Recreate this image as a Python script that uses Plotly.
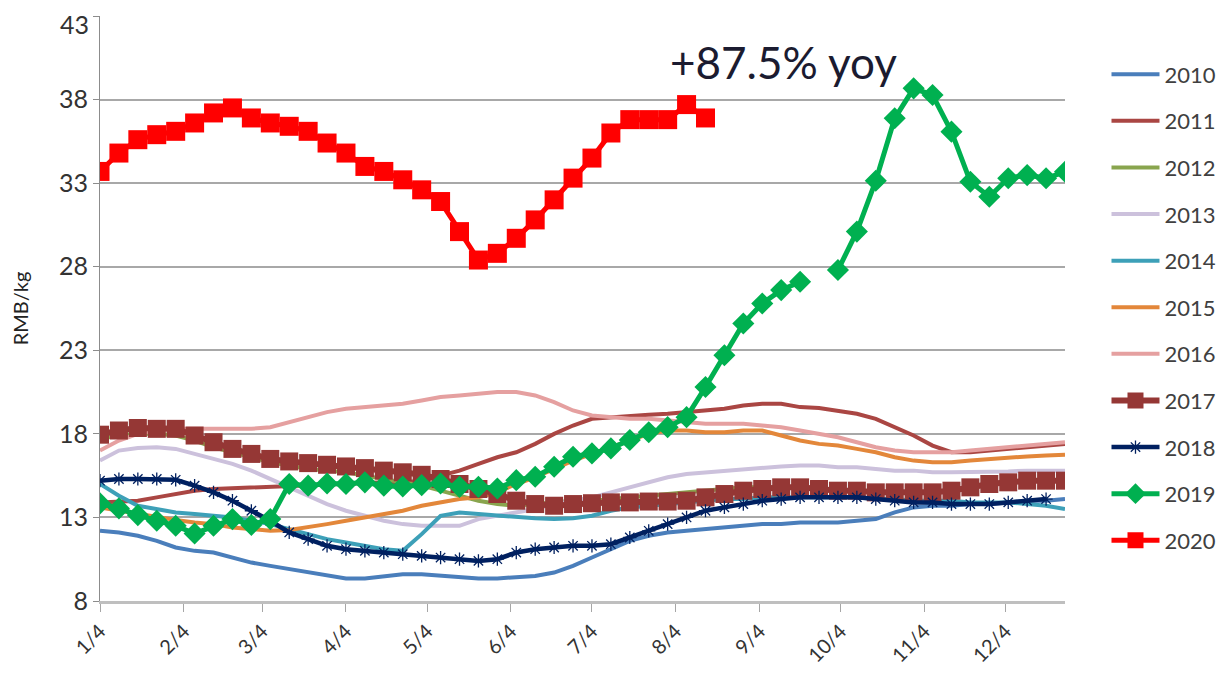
import pandas as pd
import plotly.graph_objects as go

# Weekly observation dates (plotted on a common 2020 calendar axis)
WEEKS = pd.date_range("2020-01-04", periods=52, freq="7D")

TICK_DATES = ["2020-01-04", "2020-02-04", "2020-03-04", "2020-04-04", "2020-05-04", "2020-06-04",
              "2020-07-04", "2020-08-04", "2020-09-04", "2020-10-04", "2020-11-04", "2020-12-04"]
TICK_LABELS = ["1/4", "2/4", "3/4", "4/4", "5/4", "6/4", "7/4", "8/4", "9/4", "10/4", "11/4", "12/4"]

Y_TICKS = [8, 13, 18, 23, 28, 33, 38, 43]

p2010 = [12.2, 12.1, 11.9, 11.6, 11.2, 11.0, 10.9, 10.6, 10.3, 10.1, 9.9, 9.7, 9.5, 9.35, 9.35, 9.5,
         9.6, 9.6, 9.5, 9.4, 9.35, 9.35, 9.4, 9.5, 9.7, 10.1, 10.6, 11.1, 11.6, 11.9, 12.1, 12.2,
         12.3, 12.4, 12.5, 12.6, 12.6, 12.7, 12.7, 12.7, 12.8, 12.9, 13.3, 13.6, 13.7, 13.7, 13.8,
         13.8, 13.9, 14.0, 14.0, 14.1]
p2011 = [13.9, 13.95, 14.0, 14.2, 14.4, 14.6, 14.7, 14.75, 14.8, 14.85, 14.9, 14.95, 15.0, 15.0,
         15.05, 15.1, 15.1, 15.2, 15.5, 15.8, 16.2, 16.6, 16.9, 17.4, 18.0, 18.5, 18.9, 19.0, 19.1,
         19.15, 19.2, 19.3, 19.35, 19.5, 19.7, 19.8, 19.8, 19.6, 19.55, 19.4, 19.2, 18.9, 18.4,
         17.9, 17.3, 16.9, 16.9, 17.0, 17.1, 17.2, 17.3, 17.4]
p2012 = [17.7, 17.9, 18.0, 18.0, 17.9, 17.6, 17.2, 16.9, 16.6, 16.3, 16.1, 15.9, 15.8, 15.7, 15.5,
         15.3, 15.1, 14.9, 14.6, 14.3, 14.0, 13.8, 13.7, 13.8, 13.9, 14.0, 14.0, 14.1, 14.2, 14.3,
         14.4, 14.5, 14.6, 14.7, 14.8, 14.8, 14.8, 14.8, 14.7, 14.6, 14.6, 14.5, 14.5, 14.5, 14.5,
         14.6, 14.8, 15.0, 15.1, 15.2, 15.2, 15.2]
p2013 = [16.4, 17.0, 17.15, 17.2, 17.1, 16.8, 16.5, 16.2, 15.8, 15.3, 14.8, 14.3, 13.8, 13.4, 13.1,
         12.8, 12.6, 12.5, 12.5, 12.5, 12.9, 13.1, 13.3, 13.5, 13.8, 14.0, 14.2, 14.5, 14.8, 15.1,
         15.4, 15.6, 15.7, 15.8, 15.9, 16.0, 16.05, 16.1, 16.1, 16.0, 16.0, 15.9, 15.8, 15.8, 15.7,
         15.7, 15.7, 15.7, 15.75, 15.8, 15.8, 15.8]
p2014 = [15.0, 14.3, 13.7, 13.5, 13.3, 13.2, 13.1, 13.0, 12.8, 12.6, 12.3, 12.0, 11.7, 11.5, 11.3,
         11.1, 11.0, 12.0, 13.1, 13.3, 13.2, 13.1, 13.0, 12.95, 12.9, 12.95, 13.1, 13.4, 13.6, 13.7,
         13.8, 13.9, 14.0, 14.1, 14.1, 14.2, 14.2, 14.2, 14.2, 14.2, 14.2, 14.1, 14.1, 14.0, 14.0,
         14.0, 13.9, 13.9, 13.9, 13.8, 13.7, 13.5]
p2015 = [13.6, 13.4, 13.2, 13.0, 12.85, 12.7, 12.6, 12.4, 12.3, 12.2, 12.25, 12.4, 12.6, 12.8, 13.0,
         13.2, 13.4, 13.7, 13.9, 14.1, 14.2, 14.5, 15.0, 15.4, 15.9, 16.4, 16.8, 17.2, 17.6, 18.0,
         18.2, 18.2, 18.1, 18.1, 18.2, 18.2, 17.9, 17.6, 17.4, 17.3, 17.1, 16.9, 16.6, 16.4, 16.3,
         16.3, 16.4, 16.5, 16.6, 16.65, 16.7, 16.75]
p2016 = [17.0, 17.6, 18.0, 18.2, 18.3, 18.3, 18.3, 18.3, 18.3, 18.4, 18.7, 19.0, 19.3, 19.5, 19.6,
         19.7, 19.8, 20.0, 20.2, 20.3, 20.4, 20.5, 20.5, 20.3, 19.9, 19.4, 19.1, 19.0, 18.9, 18.9,
         18.8, 18.7, 18.6, 18.6, 18.6, 18.5, 18.4, 18.2, 18.0, 17.8, 17.5, 17.2, 17.0, 16.9, 16.9,
         16.9, 17.0, 17.1, 17.2, 17.3, 17.4, 17.5]
p2017 = [17.95, 18.2, 18.35, 18.3, 18.3, 17.9, 17.5, 17.1, 16.8, 16.5, 16.35, 16.25, 16.15, 16.05,
         15.95, 15.8, 15.7, 15.55, 15.3, 15.0, 14.7, 14.4, 14.0, 13.8, 13.7, 13.8, 13.85, 13.9,
         13.9, 13.95, 13.95, 14.0, 14.2, 14.4, 14.6, 14.7, 14.8, 14.8, 14.7, 14.6, 14.6, 14.5, 14.5,
         14.5, 14.5, 14.6, 14.8, 15.0, 15.1, 15.2, 15.2, 15.2]
p2018 = [15.2, 15.3, 15.3, 15.3, 15.25, 14.9, 14.5, 14.0, 13.4, 12.8, 12.1, 11.7, 11.3, 11.1, 11.0,
         10.9, 10.8, 10.7, 10.6, 10.5, 10.4, 10.5, 10.9, 11.1, 11.2, 11.3, 11.3, 11.4, 11.8, 12.2,
         12.6, 13.0, 13.4, 13.6, 13.8, 14.0, 14.1, 14.2, 14.2, 14.2, 14.2, 14.1, 14.0, 13.9, 13.9,
         13.8, 13.8, 13.8, 13.9, 14.0, 14.1, None]
p2019 = [13.84, 13.54, 13.14, 12.8, 12.5, 12.04, 12.5, 12.9, 12.55, 12.9, 15.0, 14.9, 15.03, 15.0,
         15.1, 14.9, 14.85, 14.93, 15.03, 14.83, 14.83, 14.73, 15.23, 15.43, 16.03, 16.63, 16.83,
         17.13, 17.63, 18.1, 18.4, 19.0, 20.8, 22.7, 24.6, 25.8, 26.6, 27.1, None, 27.8, 30.1, 33.14,
         36.88, 38.67, 38.27, 36.08, 33.08, 32.19, 33.29, 33.48, 33.29, 33.68]
p2020 = [33.7, 34.8, 35.6, 35.9, 36.1, 36.6, 37.2, 37.5, 36.9, 36.6, 36.4, 36.1, 35.4, 34.8, 34.0,
         33.7, 33.2, 32.6, 31.9, 30.1, 28.4, 28.8, 29.7, 30.8, 32.0, 33.3, 34.5, 36.0, 36.8, 36.8,
         36.8, 37.7, 36.9]

SERIES = [
    ("2010", p2010, "#4A7EBB", 4, None),
    ("2011", p2011, "#AA4643", 4, None),
    ("2012", p2012, "#89A54E", 4, None),
    ("2013", p2013, "#CCC1DC", 4, None),
    ("2014", p2014, "#3DA0B8", 4, None),
    ("2015", p2015, "#E3873A", 4, None),
    ("2016", p2016, "#E5A0A0", 4, None),
    ("2017", p2017, "#953735", 6, dict(symbol="square", size=18, color="#953735")),
    ("2018", p2018, "#002060", 4.5, dict(symbol="asterisk-open", size=11,
                                         line=dict(color="#002060", width=1.3))),
    ("2019", p2019, "#00B050", 5, dict(symbol="diamond", size=17, color="#00B050")),
    ("2020", p2020, "#FF0000", 5, dict(symbol="square", size=19, color="#FF0000")),
]

FONT = "Lato, 'Open Sans', sans-serif"
TICK_FONT = dict(family=FONT, size=25, color="#333333")

fig = go.Figure()
for name, vals, color, width, marker in SERIES:
    fig.add_trace(go.Scatter(
        x=WEEKS[:len(vals)], y=vals, name=name, legendgroup=name,
        mode="lines+markers" if marker else "lines",
        line=dict(color=color, width=width),
        marker=marker if marker else None,
        connectgaps=False,
    ))

fig.add_annotation(
    x="2020-08-01", y=40.25, xref="x", yref="y", text="+87.5% yoy",
    showarrow=False, xanchor="left", yanchor="middle",
    font=dict(family=FONT, size=44, color="#1B1B30"),
)

# Top y tick label is drawn as an annotation nudged down so it stays inside the page.
y_ticktext = [str(v) for v in Y_TICKS[:-1]] + [""]
fig.add_annotation(
    x=0, xref="paper", y=Y_TICKS[-1], yref="y", text=str(Y_TICKS[-1]),
    showarrow=False, xanchor="right", yanchor="middle", xshift=-9, yshift=-8,
    font=TICK_FONT,
)

# The page body adds an 8 px offset; the figure is sized so the plot area
# lands at x 100..1065, y 16..601 in the 1229x679 window.
fig.update_layout(
    width=1221, height=671,
    margin=dict(l=92, r=164, t=8, b=78, autoexpand=False),
    paper_bgcolor="white", plot_bgcolor="white",
    font=dict(family=FONT, color="#333333"),
    showlegend=True,
    legend=dict(
        x=1.043, xanchor="left", y=0.936, yanchor="top",
        font=dict(family=FONT, size=22, color="#404040"),
        tracegroupgap=15, itemwidth=48, bgcolor="rgba(0,0,0,0)",
    ),
    xaxis=dict(
        type="date", range=["2020-01-04", "2020-12-26"],
        tickvals=TICK_DATES, ticktext=TICK_LABELS, tickangle=-45,
        tickfont=dict(family=FONT, size=20, color="#333333"),
        showgrid=False, showline=True, linecolor="#BFBFBF", linewidth=2.5,
        ticks="outside", ticklen=8, tickcolor="#A6A6A6", tickwidth=1.2,
        zeroline=False, automargin=False,
    ),
    yaxis=dict(
        range=[8, 43], tickvals=Y_TICKS, ticktext=y_ticktext,
        tickfont=TICK_FONT,
        showgrid=True, gridcolor="#A8A8A8", gridwidth=2,
        showline=True, linecolor="#8C8C8C", linewidth=1.2,
        ticks="outside", ticklen=6, tickcolor="#8C8C8C",
        zeroline=False, automargin=False,
        title=dict(text="RMB/kg", font=dict(family=FONT, size=20, color="#222222"), standoff=30),
    ),
)

fig.write_html("out.html")
